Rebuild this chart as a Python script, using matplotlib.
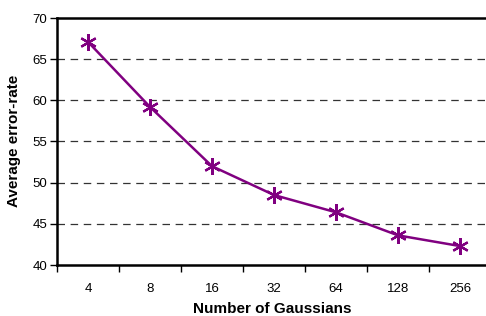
import matplotlib
matplotlib.use("Agg")
import matplotlib.pyplot as plt
import numpy as np

categories = ["4", "8", "16", "32", "64", "128", "256"]
error_rate = [67.1, 59.2, 52.0, 48.5, 46.4, 43.6, 42.3]
y_ticks = [40, 45, 50, 55, 60, 65, 70]

plt.rcParams['font.family'] = ['Liberation Sans', 'DejaVu Sans']

W, H = 486, 316
fig = plt.figure(figsize=(W/100, H/100), dpi=100)
ax = fig.add_axes([57/W, 1-265/H, 434/W, 247/H])

x = np.arange(len(categories))
for yv in y_ticks[1:-1]:
    ax.axhline(yv, color='#333333', lw=0.9, ls=(0, (6, 4.5)), zorder=1)

ax.plot(x, error_rate, color='#800080', lw=1.8, marker=(6, 2, 0),
        markersize=12, markeredgewidth=1.6, zorder=3)

ax.set_xlim(-0.5, len(categories) - 0.5)
ax.set_ylim(40, 70)
ax.set_yticks(y_ticks)
ax.set_xticks(x)
ax.set_xticklabels(categories)
ax.set_xticks(np.arange(len(categories) + 1) - 0.5, minor=True)
ax.tick_params(axis='x', which='major', length=0, pad=13, labelsize=9.5)
ax.tick_params(axis='x', which='minor', length=5, width=1, direction='out')
ax.tick_params(axis='y', length=5, width=1, direction='out', labelsize=9.5, pad=2)

for s in ['left', 'bottom', 'top']:
    ax.spines[s].set_linewidth(1.8)
ax.spines['right'].set_visible(False)

fig.text(272.5/W, 1-313/H, "Number of Gaussians", fontsize=11, fontweight='bold',
         ha='center', va='baseline')
fig.text(7/W, 1-141/H, "Average error-rate", fontsize=11, fontweight='bold',
         ha='left', va='center', rotation=90)

fig.savefig("out.png", dpi=100)
